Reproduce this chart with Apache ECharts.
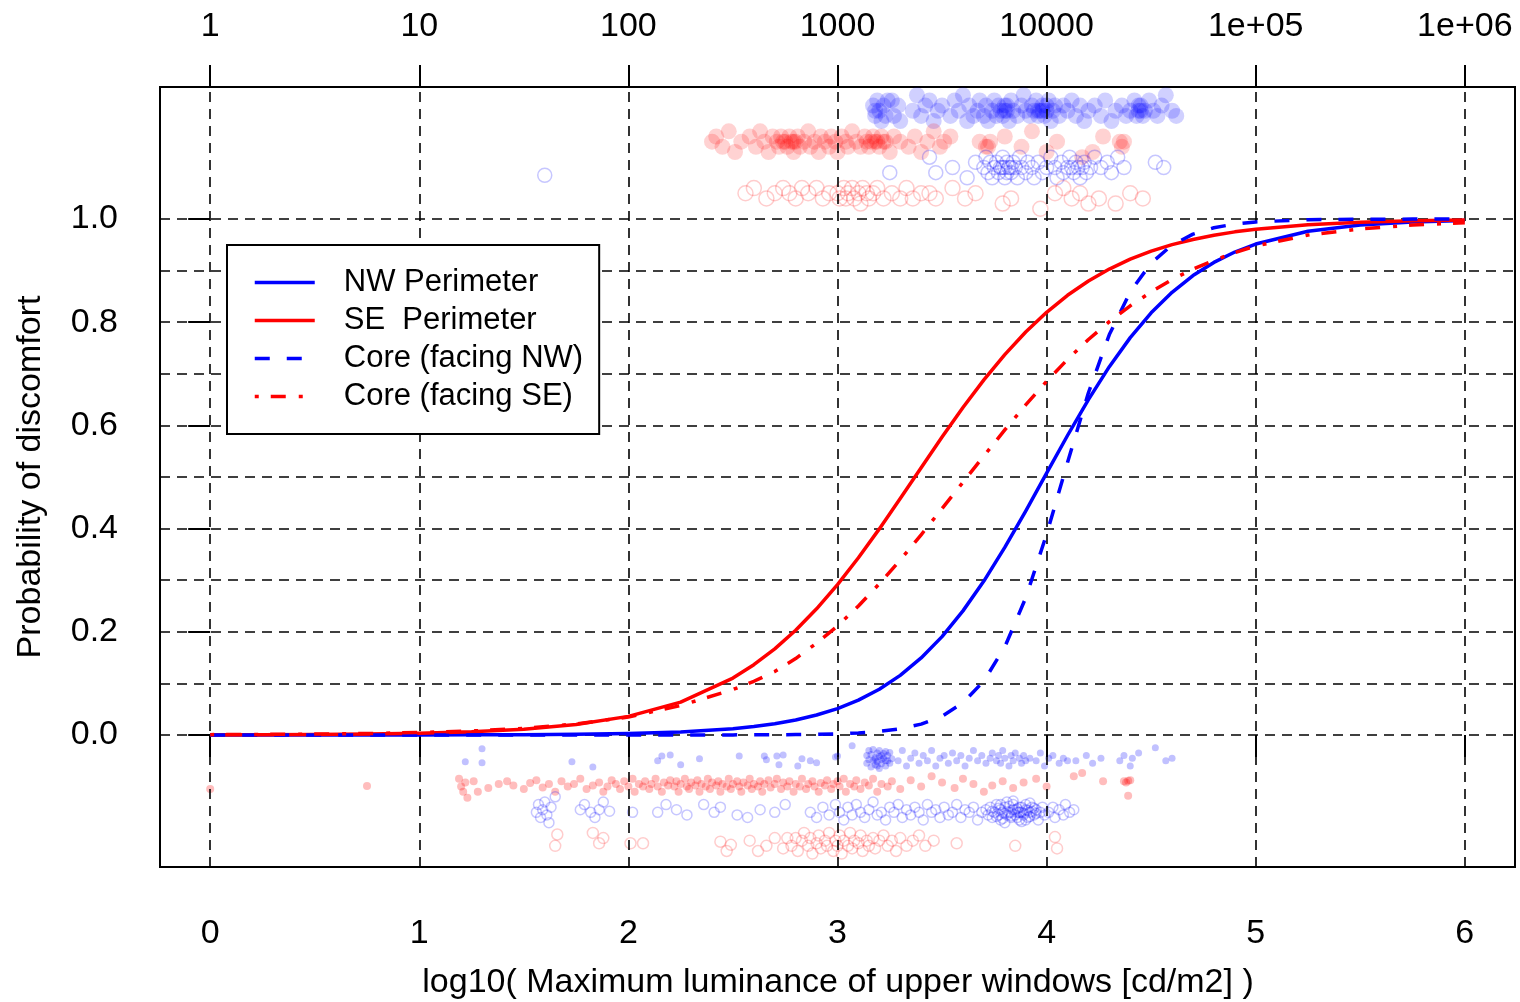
<!DOCTYPE html>
<html><head><meta charset="utf-8">
<script src="https://cdn.jsdelivr.net/npm/echarts@6/dist/echarts.min.js"></script>
<style>html,body{margin:0;padding:0;background:#fff}#c{width:1520px;height:1002px}</style>
</head><body><div id="c"></div>
<script>
// ---- tick / axis values ----
const xTicks = [0, 1, 2, 3, 4, 5, 6];
const topTickLabels = ['1', '10', '100', '1000', '10000', '1e+05', '1e+06'];
const yTicks = [0, 0.2, 0.4, 0.6, 0.8, 1.0];
const yGridLines = [0, 0.1, 0.2, 0.3, 0.4, 0.5, 0.6, 0.7, 0.8, 0.9, 1.0];

// ---- fitted probability curves ----
const xGrid = [0,0.25,0.5,0.75,1,1.25,1.5,1.75,2,2.25,2.5,2.6,2.7,2.8,2.9,3.0,3.1,3.2,3.3,3.4,3.5,3.6,3.7,3.8,3.9,4.0,4.1,4.2,4.3,4.4,4.5,4.6,4.7,4.8,4.9,5.0,5.25,5.5,5.75,6];
const pNWPerim = [0,0,0,0.0001,0.0001,0.0003,0.0006,0.0013,0.0028,0.0059,0.0121,0.0163,0.0217,0.0290,0.0386,0.0511,0.0675,0.0887,0.1155,0.1493,0.1906,0.2405,0.2982,0.3636,0.4339,0.5074,0.5804,0.6501,0.7139,0.7702,0.8183,0.8581,0.8904,0.9160,0.9361,0.9516,0.9763,0.9885,0.9945,0.9973];
const pSEPerim = [0.0003,0.0006,0.0010,0.0019,0.0034,0.0061,0.0111,0.0201,0.0360,0.0637,0.1102,0.1361,0.1669,0.2029,0.2445,0.2915,0.3434,0.3994,0.4581,0.5180,0.5774,0.6346,0.6883,0.7373,0.7811,0.8193,0.8522,0.8800,0.9031,0.9222,0.9377,0.9504,0.9605,0.9687,0.9752,0.9804,0.9891,0.9940,0.9967,0.9982];
const pCoreNW = [0,0,0,0,0,0,0,0,0,0,0.0001,0.0002,0.0004,0.0007,0.0013,0.0022,0.0039,0.0069,0.0120,0.0210,0.0363,0.0623,0.1046,0.1705,0.2656,0.3889,0.5282,0.6633,0.7761,0.8591,0.9147,0.9497,0.9708,0.9832,0.9904,0.9945,0.9987,0.9997,0.9999,1.0];
const pCoreSE = [0.0006,0.0010,0.0017,0.0028,0.0046,0.0077,0.0128,0.0212,0.0348,0.0569,0.0880,0.1040,0.1230,0.1480,0.1780,0.2110,0.2500,0.2930,0.3390,0.3880,0.4388,0.4898,0.5409,0.5912,0.6397,0.6854,0.7279,0.7666,0.8012,0.8319,0.8587,0.8830,0.9030,0.9200,0.9350,0.9480,0.9690,0.9810,0.9885,0.9930];

// ---- jittered observations (discomfort = 1, drawn above 1.0) ----
const nwPerimHigh = [[3.17,1.22],[3.18,1.20],[3.19,1.23],[3.20,1.21],[3.21,1.19],[3.22,1.22],[3.23,1.20],[3.18,1.21],[3.24,1.23],[3.27,1.20],[3.29,1.22],[3.30,1.19],[3.26,1.23],[3.36,1.21],[3.38,1.24],[3.40,1.20],[3.42,1.22],[3.44,1.23],[3.46,1.19],[3.48,1.21],[3.50,1.22],[3.54,1.20],[3.56,1.23],[3.58,1.21],[3.60,1.24],[3.62,1.19],[3.63,1.22],[3.65,1.20],[3.67,1.21],[3.68,1.23],[3.70,1.20],[3.71,1.22],[3.72,1.19],[3.74,1.21],[3.75,1.23],[3.76,1.20],[3.77,1.22],[3.78,1.21],[3.79,1.20],[3.80,1.22],[3.81,1.21],[3.82,1.19],[3.83,1.23],[3.84,1.21],[3.86,1.20],[3.88,1.22],[3.89,1.24],[3.90,1.21],[3.92,1.20],[3.93,1.22],[3.94,1.21],[3.95,1.23],[3.96,1.20],[3.97,1.21],[3.98,1.22],[3.99,1.20],[4.00,1.21],[4.01,1.23],[4.02,1.19],[4.03,1.21],[4.04,1.22],[3.80,1.21],[3.81,1.22],[3.96,1.21],[3.98,1.21],[4.00,1.22],[4.06,1.20],[4.08,1.22],[4.10,1.21],[4.12,1.23],[4.14,1.20],[4.16,1.22],[4.18,1.19],[4.20,1.21],[4.23,1.22],[4.26,1.20],[4.28,1.23],[4.31,1.19],[4.33,1.21],[4.36,1.22],[4.38,1.20],[4.40,1.21],[4.42,1.23],[4.43,1.20],[4.44,1.21],[4.45,1.22],[4.46,1.20],[4.47,1.21],[4.45,1.21],[4.44,1.22],[4.49,1.23],[4.51,1.21],[4.53,1.20],[4.55,1.22],[4.57,1.24],[4.60,1.21],[4.62,1.20]];
const sePerimHigh = [[2.40,1.15],[2.42,1.16],[2.45,1.14],[2.48,1.17],[2.51,1.13],[2.54,1.15],[2.58,1.16],[2.61,1.14],[2.63,1.17],[2.65,1.15],[2.67,1.13],[2.69,1.16],[2.71,1.15],[2.72,1.14],[2.73,1.16],[2.74,1.15],[2.76,1.14],[2.77,1.16],[2.78,1.15],[2.79,1.13],[2.80,1.15],[2.81,1.16],[2.82,1.14],[2.84,1.15],[2.75,1.15],[2.79,1.15],[2.86,1.17],[2.87,1.14],[2.89,1.15],[2.91,1.13],[2.92,1.16],[2.94,1.15],[2.96,1.14],[2.97,1.16],[2.99,1.15],[3.00,1.13],[3.02,1.16],[3.04,1.15],[3.05,1.14],[3.07,1.17],[3.09,1.15],[3.11,1.14],[3.13,1.16],[3.14,1.15],[3.15,1.14],[3.17,1.16],[3.18,1.15],[3.20,1.14],[3.21,1.16],[3.23,1.15],[3.25,1.13],[3.27,1.16],[3.30,1.15],[3.16,1.15],[3.19,1.15],[3.22,1.15],[3.34,1.14],[3.37,1.16],[3.40,1.13],[3.43,1.15],[3.46,1.17],[3.49,1.14],[3.51,1.15],[3.54,1.16],[3.68,1.15],[3.71,1.14],[3.72,1.14],[3.73,1.15],[3.80,1.16],[3.88,1.14],[3.93,1.17],[4.00,1.13],[4.05,1.15],[4.17,1.12],[4.22,1.13],[4.27,1.16],[4.35,1.15],[4.36,1.14],[4.37,1.15]];
const coreNWHigh = [[1.60,1.085],[3.25,1.09],[3.44,1.12],[3.47,1.09],[3.55,1.10],[3.62,1.08],[3.66,1.11],[3.70,1.10],[3.71,1.12],[3.72,1.09],[3.73,1.11],[3.74,1.08],[3.75,1.10],[3.76,1.11],[3.77,1.09],[3.78,1.10],[3.79,1.12],[3.80,1.10],[3.80,1.08],[3.81,1.11],[3.82,1.10],[3.83,1.09],[3.84,1.11],[3.85,1.10],[3.86,1.08],[3.87,1.12],[3.88,1.10],[3.90,1.09],[3.91,1.11],[3.93,1.10],[3.94,1.08],[3.79,1.10],[3.81,1.09],[3.83,1.10],[3.96,1.11],[3.98,1.09],[4.00,1.10],[4.02,1.12],[4.04,1.10],[4.05,1.08],[4.07,1.11],[4.08,1.09],[4.10,1.10],[4.11,1.12],[4.12,1.10],[4.13,1.09],[4.14,1.11],[4.15,1.10],[4.16,1.08],[4.17,1.10],[4.18,1.11],[4.19,1.09],[4.21,1.10],[4.23,1.12],[4.26,1.10],[4.29,1.11],[4.31,1.09],[4.34,1.12],[4.37,1.10],[4.52,1.11],[4.56,1.10]];
const coreSEHigh = [[2.56,1.05],[2.60,1.06],[2.66,1.04],[2.70,1.05],[2.74,1.06],[2.77,1.05],[2.80,1.04],[2.83,1.06],[2.86,1.05],[2.90,1.06],[2.93,1.04],[2.96,1.05],[3.00,1.05],[3.01,1.04],[3.03,1.06],[3.04,1.04],[3.05,1.05],[3.07,1.06],[3.08,1.04],[3.10,1.05],[3.11,1.03],[3.12,1.06],[3.14,1.05],[3.15,1.04],[3.17,1.05],[3.19,1.06],[3.22,1.04],[3.26,1.05],[3.30,1.04],[3.33,1.06],[3.36,1.04],[3.40,1.05],[3.44,1.05],[3.47,1.04],[3.55,1.06],[3.61,1.04],[3.66,1.05],[3.79,1.03],[3.83,1.04],[3.97,1.02],[4.04,1.05],[4.08,1.06],[4.12,1.04],[4.16,1.05],[4.20,1.03],[4.25,1.04],[4.33,1.03],[4.40,1.05],[4.46,1.04]];

// ---- jittered observations (discomfort = 0, drawn below 0.0) ----
const nwPerimLow = [[1.22,-0.052],[1.30,-0.027],[1.30,-0.054],[1.73,-0.052],[1.83,-0.062],[2.14,-0.050],[2.16,-0.041],[2.20,-0.039],[2.25,-0.058],[2.34,-0.046],[2.53,-0.041],[2.65,-0.041],[2.66,-0.048],[2.71,-0.041],[2.72,-0.058],[2.74,-0.039],[2.81,-0.060],[2.83,-0.046],[2.87,-0.050],[2.90,-0.054],[2.99,-0.043],[3.00,-0.041],[3.07,-0.021],[3.14,-0.040],[3.14,-0.055],[3.15,-0.030],[3.15,-0.048],[3.16,-0.062],[3.16,-0.038],[3.17,-0.050],[3.17,-0.028],[3.18,-0.044],[3.18,-0.058],[3.19,-0.035],[3.19,-0.052],[3.20,-0.042],[3.20,-0.065],[3.20,-0.030],[3.21,-0.048],[3.21,-0.056],[3.22,-0.036],[3.22,-0.045],[3.23,-0.060],[3.23,-0.032],[3.24,-0.050],[3.24,-0.040],[3.25,-0.055],[3.25,-0.034],[3.26,-0.046],[3.18,-0.047],[3.21,-0.040],[3.19,-0.060],[3.23,-0.050],[3.29,-0.050],[3.31,-0.030],[3.33,-0.060],[3.35,-0.045],[3.37,-0.035],[3.39,-0.055],[3.41,-0.040],[3.43,-0.050],[3.45,-0.030],[3.47,-0.060],[3.49,-0.045],[3.51,-0.040],[3.53,-0.055],[3.55,-0.035],[3.57,-0.050],[3.59,-0.040],[3.61,-0.060],[3.63,-0.045],[3.65,-0.030],[3.67,-0.050],[3.69,-0.040],[3.71,-0.055],[3.73,-0.045],[3.74,-0.035],[3.76,-0.050],[3.77,-0.040],[3.78,-0.055],[3.79,-0.030],[3.80,-0.045],[3.82,-0.060],[3.83,-0.040],[3.84,-0.050],[3.85,-0.035],[3.87,-0.045],[3.88,-0.055],[3.89,-0.040],[3.90,-0.050],[3.92,-0.045],[3.95,-0.050],[3.97,-0.035],[3.99,-0.060],[4.01,-0.045],[4.03,-0.040],[4.06,-0.055],[4.08,-0.045],[4.10,-0.050],[4.14,-0.050],[4.19,-0.040],[4.22,-0.055],[4.26,-0.045],[4.35,-0.050],[4.37,-0.040],[4.40,-0.060],[4.41,-0.045],[4.44,-0.035],[4.52,-0.025],[4.57,-0.050],[4.60,-0.045]];
const sePerimLow = [[0.00,-0.105],[0.75,-0.099],[1.19,-0.085],[1.20,-0.100],[1.21,-0.110],[1.22,-0.092],[1.23,-0.122],[1.26,-0.090],[1.28,-0.110],[1.33,-0.103],[1.38,-0.095],[1.42,-0.090],[1.45,-0.098],[1.50,-0.105],[1.53,-0.093],[1.56,-0.088],[1.59,-0.102],[1.62,-0.095],[1.65,-0.110],[1.68,-0.090],[1.71,-0.100],[1.74,-0.095],[1.77,-0.085],[1.80,-0.105],[1.83,-0.098],[1.86,-0.092],[1.88,-0.110],[1.90,-0.100],[1.92,-0.088],[1.94,-0.095],[1.96,-0.105],[1.98,-0.090],[2.00,-0.100],[2.02,-0.085],[2.03,-0.110],[2.05,-0.095],[2.07,-0.100],[2.08,-0.090],[2.10,-0.105],[2.11,-0.095],[2.13,-0.085],[2.14,-0.100],[2.16,-0.110],[2.17,-0.092],[2.19,-0.098],[2.20,-0.088],[2.22,-0.100],[2.23,-0.090],[2.24,-0.110],[2.25,-0.095],[2.27,-0.085],[2.28,-0.100],[2.29,-0.105],[2.30,-0.092],[2.32,-0.098],[2.33,-0.088],[2.34,-0.110],[2.35,-0.095],[2.37,-0.100],[2.38,-0.085],[2.39,-0.105],[2.40,-0.092],[2.42,-0.098],[2.43,-0.090],[2.44,-0.110],[2.45,-0.095],[2.47,-0.100],[2.48,-0.085],[2.49,-0.105],[2.50,-0.095],[2.52,-0.090],[2.53,-0.100],[2.54,-0.110],[2.55,-0.092],[2.57,-0.098],[2.58,-0.085],[2.59,-0.105],[2.60,-0.095],[2.62,-0.100],[2.63,-0.090],[2.64,-0.110],[2.65,-0.095],[2.67,-0.088],[2.68,-0.102],[2.70,-0.095],[2.71,-0.085],[2.73,-0.105],[2.74,-0.092],[2.76,-0.100],[2.77,-0.090],[2.79,-0.110],[2.80,-0.095],[2.82,-0.100],[2.83,-0.085],[2.85,-0.105],[2.86,-0.095],[2.88,-0.090],[2.89,-0.100],[2.91,-0.110],[2.92,-0.093],[2.94,-0.098],[2.95,-0.088],[2.97,-0.105],[2.98,-0.095],[3.00,-0.090],[3.01,-0.100],[3.03,-0.085],[3.04,-0.110],[3.06,-0.095],[3.08,-0.100],[3.09,-0.088],[3.11,-0.105],[3.13,-0.092],[3.15,-0.098],[3.17,-0.085],[3.19,-0.110],[3.21,-0.095],[3.24,-0.100],[3.26,-0.090],[3.30,-0.105],[3.35,-0.088],[3.40,-0.100],[3.45,-0.080],[3.50,-0.092],[3.56,-0.103],[3.60,-0.085],[3.65,-0.095],[3.70,-0.110],[3.74,-0.098],[3.79,-0.090],[3.84,-0.103],[3.89,-0.092],[3.95,-0.085],[4.00,-0.100],[4.13,-0.080],[4.17,-0.074],[4.27,-0.090],[4.37,-0.090],[4.38,-0.092],[4.39,-0.089],[4.40,-0.088],[4.39,-0.118]];
const coreNWLow = [[1.56,-0.150],[1.57,-0.135],[1.58,-0.160],[1.59,-0.145],[1.60,-0.130],[1.61,-0.155],[1.62,-0.170],[1.63,-0.140],[1.65,-0.120],[1.77,-0.145],[1.79,-0.135],[1.82,-0.150],[1.84,-0.160],[1.86,-0.145],[1.88,-0.130],[1.91,-0.148],[2.02,-0.150],[2.14,-0.150],[2.18,-0.135],[2.23,-0.145],[2.28,-0.155],[2.36,-0.135],[2.41,-0.150],[2.44,-0.140],[2.52,-0.155],[2.57,-0.160],[2.63,-0.145],[2.70,-0.150],[2.75,-0.135],[2.87,-0.150],[2.90,-0.160],[2.93,-0.140],[2.96,-0.155],[2.99,-0.135],[3.01,-0.150],[3.03,-0.165],[3.05,-0.140],[3.07,-0.155],[3.09,-0.135],[3.11,-0.150],[3.13,-0.160],[3.15,-0.145],[3.17,-0.130],[3.19,-0.155],[3.21,-0.150],[3.23,-0.165],[3.25,-0.140],[3.27,-0.150],[3.29,-0.135],[3.31,-0.160],[3.33,-0.145],[3.35,-0.155],[3.37,-0.140],[3.39,-0.150],[3.41,-0.165],[3.43,-0.135],[3.45,-0.150],[3.47,-0.145],[3.49,-0.160],[3.51,-0.140],[3.53,-0.155],[3.55,-0.150],[3.57,-0.135],[3.59,-0.160],[3.61,-0.145],[3.63,-0.150],[3.65,-0.140],[3.67,-0.165],[3.69,-0.150],[3.71,-0.145],[3.72,-0.155],[3.73,-0.140],[3.74,-0.160],[3.75,-0.150],[3.76,-0.135],[3.77,-0.155],[3.78,-0.145],[3.78,-0.165],[3.79,-0.150],[3.80,-0.140],[3.81,-0.155],[3.81,-0.130],[3.82,-0.150],[3.83,-0.160],[3.84,-0.145],[3.84,-0.135],[3.85,-0.155],[3.86,-0.150],[3.87,-0.165],[3.87,-0.140],[3.88,-0.150],[3.89,-0.155],[3.90,-0.145],[3.90,-0.135],[3.91,-0.160],[3.92,-0.150],[3.93,-0.140],[3.94,-0.155],[3.95,-0.145],[3.96,-0.165],[3.97,-0.150],[3.98,-0.140],[3.99,-0.155],[3.74,-0.148],[3.76,-0.158],[3.77,-0.142],[3.79,-0.162],[3.80,-0.152],[3.82,-0.138],[3.83,-0.150],[3.85,-0.145],[3.86,-0.160],[3.88,-0.140],[3.89,-0.152],[3.91,-0.146],[3.92,-0.158],[3.94,-0.142],[3.95,-0.152],[3.80,-0.170],[3.84,-0.128],[3.88,-0.168],[3.92,-0.132],[3.78,-0.135],[3.86,-0.143],[3.90,-0.165],[3.83,-0.157],[3.87,-0.150],[3.93,-0.148],[4.01,-0.150],[4.03,-0.140],[4.04,-0.160],[4.06,-0.145],[4.08,-0.155],[4.09,-0.135],[4.11,-0.150],[4.13,-0.145]];
const coreSELow = [[1.66,-0.193],[1.65,-0.215],[1.83,-0.190],[1.86,-0.210],[1.88,-0.200],[2.01,-0.210],[2.07,-0.210],[2.44,-0.207],[2.47,-0.225],[2.49,-0.213],[2.58,-0.205],[2.62,-0.225],[2.66,-0.215],[2.70,-0.200],[2.74,-0.220],[2.76,-0.200],[2.78,-0.215],[2.80,-0.200],[2.81,-0.225],[2.83,-0.205],[2.84,-0.190],[2.86,-0.215],[2.87,-0.200],[2.88,-0.230],[2.90,-0.210],[2.91,-0.195],[2.92,-0.220],[2.94,-0.205],[2.95,-0.215],[2.96,-0.190],[2.98,-0.225],[2.99,-0.205],[3.00,-0.215],[3.01,-0.195],[3.02,-0.230],[3.03,-0.205],[3.05,-0.215],[3.06,-0.190],[3.07,-0.220],[3.08,-0.205],[3.10,-0.210],[3.11,-0.195],[3.12,-0.225],[3.14,-0.205],[3.15,-0.215],[3.17,-0.200],[3.18,-0.220],[3.20,-0.205],[3.22,-0.195],[3.24,-0.215],[3.26,-0.205],[3.28,-0.225],[3.30,-0.200],[3.33,-0.215],[3.36,-0.205],[3.39,-0.195],[3.42,-0.215],[3.46,-0.205],[3.57,-0.210],[3.85,-0.215],[4.04,-0.198],[4.05,-0.220]];

const FONT = '"Liberation Sans", Arial, Helvetica, sans-serif';
const BLUE = '#0000ff', RED = '#ff0000';
const pair = ys => xGrid.map((x, i) => [x, ys[i]]);

function dots(name, data, rgb, size, filled, alpha) {
  return {
    type: 'scatter', name, data, symbol: 'circle', symbolSize: size, silent: true, z: 2,
    itemStyle: filled
      ? { color: 'rgba(' + rgb + ',' + alpha + ')', borderWidth: 0 }
      : { color: 'rgba(0,0,0,0)', borderColor: 'rgba(' + rgb + ',' + alpha + ')', borderWidth: 1.5 }
  };
}
function curve(name, ys, color, dash) {
  return {
    type: 'line', name, data: pair(ys), symbol: 'none', showSymbol: false, smooth: false,
    z: 5, silent: true,
    lineStyle: { color, width: 3.5, type: dash, cap: 'butt', join: 'round' }, itemStyle: { color }
  };
}

const chart = echarts.init(document.getElementById('c'), null, { renderer: 'canvas' });
const axisText = { fontSize: 34, fontFamily: FONT, color: '#000' };
chart.setOption({
  animation: false,
  backgroundColor: '#fff',
  grid: { left: 160, right: 5, top: 87, bottom: 135, show: true, borderColor: '#000', borderWidth: 2, containLabel: false },
  xAxis: [
    { type: 'value', position: 'bottom', min: -0.24, max: 6.24,
      axisLine: { show: false }, splitLine: { show: false },
      axisTick: { show: true, inside: false, length: 22, customValues: xTicks, lineStyle: { color: '#000', width: 2 } },
      axisLabel: Object.assign({ customValues: xTicks, margin: 50, formatter: v => String(v) }, axisText) },
    { type: 'value', position: 'top', min: -0.24, max: 6.24,
      axisLine: { show: false }, splitLine: { show: false },
      axisTick: { show: true, inside: false, length: 22, customValues: xTicks, lineStyle: { color: '#000', width: 2 } },
      axisLabel: Object.assign({ customValues: xTicks, margin: 43, formatter: v => topTickLabels[xTicks.indexOf(Math.round(v))] }, axisText) }
  ],
  yAxis: { type: 'value', min: -0.256, max: 1.256,
    axisLine: { show: false }, splitLine: { show: false },
    axisTick: { show: true, inside: false, length: 22, customValues: yTicks, lineStyle: { color: '#000', width: 2 } },
    axisLabel: Object.assign({ customValues: yTicks, margin: 42, formatter: v => v.toFixed(1) }, axisText) },
  legend: {
    data: ['NW Perimeter', 'SE  Perimeter', 'Core (facing NW)', 'Core (facing SE)'],
    orient: 'vertical', left: 227, top: 245, padding: [22, 16, 22, 26], itemGap: 7,
    itemWidth: 60, itemHeight: 4, backgroundColor: '#fff', borderColor: '#000', borderWidth: 2, borderRadius: 0,
    z: 10, selectedMode: false,
    itemStyle: { opacity: 0 },
    lineStyle: { width: 3.5 },
    textStyle: { fontSize: 31, fontFamily: FONT, color: '#000', padding: [0, 0, 0, 24] }
  },
  graphic: [
    { type: 'text', x: 838, y: 983, silent: true, z: 20,
      style: { text: 'log10( Maximum luminance of upper windows [cd/m2] )', font: '34px ' + FONT, fill: '#000',
               textAlign: 'center', textVerticalAlign: 'middle', align: 'center', verticalAlign: 'middle' } },
    { type: 'text', x: 31, y: 477, rotation: Math.PI / 2, silent: true, z: 20,
      style: { text: 'Probability of discomfort', font: '34px ' + FONT, fill: '#000',
               textAlign: 'center', textVerticalAlign: 'middle', align: 'center', verticalAlign: 'middle' } }
  ],
  series: [
    dots('nwPerimHigh', nwPerimHigh, '0,0,255', 16, true, 0.23),
    dots('sePerimHigh', sePerimHigh, '255,0,0', 16, true, 0.22),
    dots('coreNWHigh', coreNWHigh, '0,0,255', 14, false, 0.28),
    dots('coreSEHigh', coreSEHigh, '255,0,0', 15, false, 0.25),
    dots('nwPerimLow', nwPerimLow, '0,0,255', 7, true, 0.3),
    dots('sePerimLow', sePerimLow, '255,0,0', 8, true, 0.32),
    dots('coreNWLow', coreNWLow, '0,0,255', 10, false, 0.28),
    dots('coreSELow', coreSELow, '255,0,0', 11, false, 0.25),
    { type: 'line', name: 'gridlines', data: [], z: 3, silent: true,
      markLine: { silent: true, symbol: ['none', 'none'], label: { show: false }, animation: false,
        lineStyle: { color: '#000', width: 1.6, type: [10, 7] }, emphasis: { disabled: true },
        data: xTicks.map(v => ({ xAxis: v })).concat(yGridLines.map(v => ({ yAxis: v }))) } },
    curve('NW Perimeter', pNWPerim, BLUE, 'solid'),
    curve('SE  Perimeter', pSEPerim, RED, 'solid'),
    curve('Core (facing NW)', pCoreNW, BLUE, [15, 17]),
    curve('Core (facing SE)', pCoreSE, RED, [4, 12, 15, 13])
  ]
});
</script></body></html>
